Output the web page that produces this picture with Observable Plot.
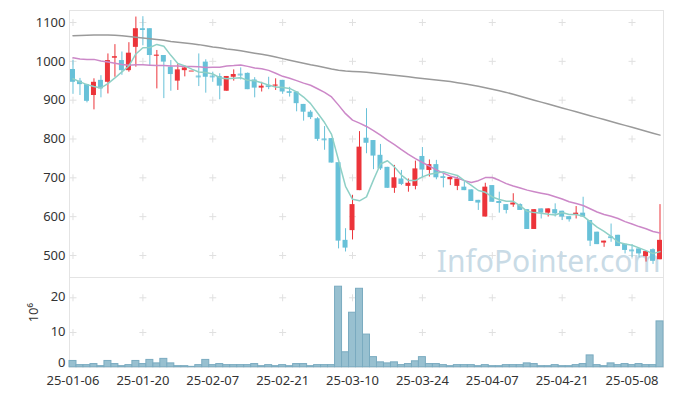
<!DOCTYPE html>
<html><head><meta charset="utf-8">
<script src="https://cdn.jsdelivr.net/npm/d3@7"></script>
<script src="https://cdn.jsdelivr.net/npm/@observablehq/plot@0.6"></script>
<style>
body{margin:0;background:#fff;}
#chart{position:relative;width:673px;height:396px;}
#chart svg{position:absolute;left:0;top:0;}
</style></head><body><div id="chart"></div>
<script>
const openP = [979,949,940,912,951,946,1008,1002,976,1036,1084,1084,1013,1015,985,949,976,975,962,998,962,961,923,959,967,969,952,931,937,936,951,922,921,889,869,852,800,801,739,539,564,667,802,796,758,727,673,697,678,678,755,719,734,703,695,678,676,669,642,599,680,639,631,630,631,618,567,620,609,618,614,600,605,609,590,560,532,548,552,529,514,517,497,515,489];
const highP = [1002,956,941,955,963,1019,1043,1024,1048,1114,1115,1084,1028,1015,1002,992,988,975,1019,1004,972,968,961,978,983,970,958,946,959,955,951,933,921,889,873,855,832,801,739,569,655,819,878,796,786,727,732,719,697,743,778,746,745,710,703,702,690,669,642,686,680,663,631,659,633,618,618,620,620,633,614,600,626,650,590,560,537,581,552,529,528,517,510,517,631];
const lowP = [915,912,893,875,906,916,959,964,972,985,1040,987,929,904,923,925,960,975,935,918,946,901,923,949,952,927,906,921,927,925,915,908,870,846,850,794,771,738,517,509,540,667,762,721,719,673,660,680,663,669,700,702,695,674,680,667,667,639,616,599,637,609,607,624,616,567,567,594,599,599,590,586,594,599,523,528,521,534,523,504,494,494,483,477,489];
const closeP = [946,940,897,946,929,1002,1012,976,1021,1084,1082,1015,1016,998,966,978,983,975,960,959,960,936,961,966,965,927,931,936,935,939,921,920,891,869,855,799,798,738,537,519,631,779,789,756,723,673,700,683,686,723,720,734,700,701,701,697,667,639,635,676,637,634,616,635,616,567,618,609,620,607,599,592,609,599,537,528,537,546,523,513,512,504,510,485,539];
const volumeM = [1.8,0.6,0.6,0.9,0.3,1.8,0.9,0.3,0.6,1.8,0.9,2.1,1.1,2.4,1.1,0.3,0.3,0.1,0.6,2.1,0.6,0.9,0.6,0.6,0.6,0.6,0.9,0.3,0.6,0.3,0.6,0.3,0.9,0.9,0.3,0.6,0.6,0.6,23.2,4.3,15.7,22.6,9.4,2.9,1.4,1.1,1.4,0.6,0.9,1.7,2.9,0.9,0.9,0.6,0.3,0.6,0.6,0.6,0.3,0.6,0.3,0.3,0.6,0.6,0.6,1.1,0.9,0.3,0.3,0.6,0.3,0.3,0.6,0.9,3.4,0.6,0.3,1.1,0.6,0.9,0.6,0.9,0.6,0.6,13.2];
const ma5 = [955,947,940,935,931.6,942.8,957.2,973,988,1019,1035,1035.6,1043.6,1039,1015.4,994.6,988.2,980,972.4,971,967.4,958,955.2,956.4,957.6,951,950,945,938.8,933.6,932.4,930.2,921.2,908,891.2,866.8,842.4,811.8,745.4,678.2,644.6,640.8,651,694.8,735.6,744,728.2,707,693,693,702.4,709.2,712.6,715.6,710.8,706.2,692.8,680.6,667.4,662.8,650.8,644.2,639.6,639.6,627.6,613.6,610.4,609,606,604.2,610.6,605.4,605.4,601.2,587.2,573,562,549.4,534.2,529.4,526.2,519.6,512.4,504.8,510];
const ma20 = [1009,1006,1005,1005,1001,998,995,992,990,991,991,990,989,989,988,988,987,987,986,984.3,985,984.8,988,989,990.8,987,983,981,976.7,969.4,961.4,956.6,950.4,943.9,938.4,929.4,920.2,908.3,887.2,865.2,848.7,840.9,832.3,821.8,809.7,797,785.4,772.8,760.3,749.5,739.5,730.2,720.6,712.2,704.4,699.3,692.8,687.8,692.7,700.6,700.9,693.6,685,678.9,673.6,668.3,664.2,660.5,657.2,651.4,645.3,638.2,633.7,628.6,620.5,612,605.5,600.9,595.3,587.1,580.9,574.4,569,561.6,557.7];
const ma120 = [1066,1066.5,1067,1067.5,1068,1068,1067,1066,1064,1062,1060,1058,1056,1054,1051,1049,1047,1045,1043,1040,1037,1035,1032,1030,1027,1024,1021,1018,1015,1011,1007,1003,999,995,991,988,984,980,977,975,974,973,972,970,968,966,964,962,960,958,956,954,952,950,948,945,942,939,936,932,928,924,920,915,910,905,900,895,890,885,880,875,870,865,860,855,850,845,840,835,830,825,820,815,810];
const tickIndex = [0,10,20,30,40,50,60,70,80];
const tickLabels = ["25-01-06","25-01-20","25-02-07","25-02-21","25-03-10","25-03-24","25-04-07","25-04-21","25-05-08"];
const priceTicks = [500,600,700,800,900,1000,1100];
const volumeTicks = [0,10,20];
const volumeUnit = "10⁶";
const watermark = "InfoPointer.com";

const UP = "#ec343a", DOWN = "#68c1d8";
const FONT = "'Noto Sans', 'DejaVu Sans', sans-serif";
const idx = d3.range(closeP.length);
const rows = idx.map(i => ({i, open: openP[i], high: highP[i], low: lowP[i], close: closeP[i],
  vol: volumeM[i], ma5: ma5[i], ma20: ma20[i], ma120: ma120[i]}));
const col = d => d.close >= d.open ? UP : DOWN;
const gridTop = d3.cross(tickIndex, priceTicks).map(([x, y]) => ({x, y}));
const gridBot = d3.cross(tickIndex, volumeTicks.filter(v => v > 0)).map(([x, y]) => ({x, y}));
const baseStyle = {fontFamily: FONT, fontSize: "13px", color: "#333", background: "transparent", overflow: "visible"};
const plain = d => String(d);

const pricePlot = Plot.plot({
  width: 673, height: 278, marginLeft: 69, marginRight: 10, marginTop: 10, marginBottom: 1,
  style: baseStyle,
  x: {type: "band", domain: idx, padding: 0, axis: null},
  y: {domain: [443.3, 1130.9], ticks: priceTicks, tickFormat: plain, tickSize: 0, tickPadding: 4, label: null},
  marks: [
    Plot.frame({stroke: "#e4e4e4"}),
    Plot.dot(gridTop, {x: "x", y: "y", symbol: "plus", r: 2.4, stroke: "#e0e0e0", strokeWidth: 1}),
    Plot.text([watermark], {frameAnchor: "bottom-right", dx: -3, dy: -6, lineAnchor: "bottom", textAnchor: "end",
      fontSize: 30, fill: "#c9dbe6", fontFamily: FONT}),
    Plot.ruleX(rows, {x: "i", y1: "low", y2: "high", stroke: col, strokeWidth: 1}),
    Plot.barY(rows, {x: "i", y1: "open", y2: "close", fill: col, insetLeft: 1, insetRight: 1}),
    Plot.tickY(rows.filter(d => Math.abs(d.close - d.open) < 3), {x: "i", y: "close", stroke: col, inset: 1}),
    Plot.lineY(rows, {x: "i", y: "ma120", stroke: "#9a9a9a", strokeWidth: 1.5}),
    Plot.lineY(rows, {x: "i", y: "ma20", stroke: "#cc88c8", strokeWidth: 1.5}),
    Plot.lineY(rows, {x: "i", y: "ma5", stroke: "#8fd0c6", strokeWidth: 1.5})
  ]
});

const volumePlot = Plot.plot({
  width: 673, height: 396, marginLeft: 69, marginRight: 10, marginTop: 277, marginBottom: 29.3,
  style: baseStyle,
  x: {type: "band", domain: idx, padding: 0},
  y: {domain: [0, 25.85], ticks: volumeTicks, tickSize: 0, tickPadding: 4, label: null},
  marks: [
    Plot.frame({stroke: "#e4e4e4"}),
    Plot.dot(gridBot, {x: "x", y: "y", symbol: "plus", r: 2.4, stroke: "#e0e0e0", strokeWidth: 1}),
    Plot.barY(rows, {x: "i", y: "vol", fill: "#98c0d0", stroke: "#7aabc0", strokeWidth: 1}),
    Plot.axisX({ticks: tickIndex, tickFormat: i => tickLabels[tickIndex.indexOf(i)], tickSize: 0, tickPadding: 8.5}),
    Plot.axisY({ticks: volumeTicks.filter(v => v > 0), tickFormat: plain, tickSize: 0, tickPadding: 4, dy: -1, label: null}),
    Plot.axisY({ticks: volumeTicks.filter(v => v === 0), tickFormat: plain, tickSize: 0, tickPadding: 4, dy: -4.5, label: null}),
    Plot.text([volumeUnit], {frameAnchor: "left", dx: -36, rotate: -90, fontSize: 13, fill: "#333"})
  ]
});

const box = document.getElementById("chart");
box.appendChild(pricePlot);
box.appendChild(volumePlot);
</script></body></html>
